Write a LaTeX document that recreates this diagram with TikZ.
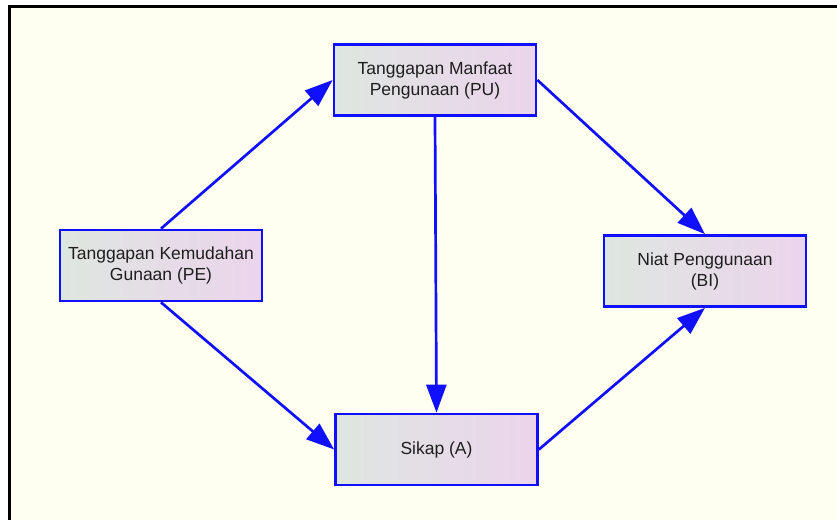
\documentclass[tikz,border=0pt]{standalone}
\usepackage{fontspec}
\setmainfont{Liberation Sans}
\usetikzlibrary{arrows.meta}
\definecolor{paper}{RGB}{254,255,240}
\definecolor{edgeblue}{RGB}{16,16,255}
\definecolor{boxleft}{RGB}{222,230,224}
\definecolor{boxright}{RGB}{236,212,236}
\definecolor{ink}{RGB}{30,30,30}
\tikzset{
  concept/.style={draw=edgeblue, line width=2.7pt, left color=boxleft, right color=boxright,
    minimum width=202pt, minimum height=71pt, inner sep=0pt, align=center,
    text=ink, font=\fontsize{17.5}{21}\selectfont},
  link/.style={draw=edgeblue, line width=2.7pt, -{Triangle[length=28pt,width=20pt]}}
}
\begin{document}
\begin{tikzpicture}[x=1pt,y=1pt]
\useasboundingbox (0,0) rectangle (837,520);
% canvas and frame
\fill[white] (0,0) rectangle (837,520);
\fill[paper] (8,0) rectangle (837,514);
\draw[black, line width=3pt] (9,0) -- (9,513.5) -- (837,513.5);
% concepts
\node[concept] (pu) at (435,440) {Tanggapan Manfaat\\Pengunaan (PU)};
\node[concept] (pe) at (161,254.5) {Tanggapan Kemudahan\\Gunaan (PE)};
\node[concept] (a) at (436.5,70.5) {Sikap (A)};
\node[concept] (bi) at (705,249) {Niat Penggunaan\\(BI)};
% relations
\draw[link] (pe.north) -- (pu.west);
\draw[link] (pe.south) -- (a.west);
\draw[link] (pu.south) -- (a.north);
\draw[link] (pu.east) -- (bi.north);
\draw[link] (a.east) -- (bi.south);
\end{tikzpicture}
\end{document}
